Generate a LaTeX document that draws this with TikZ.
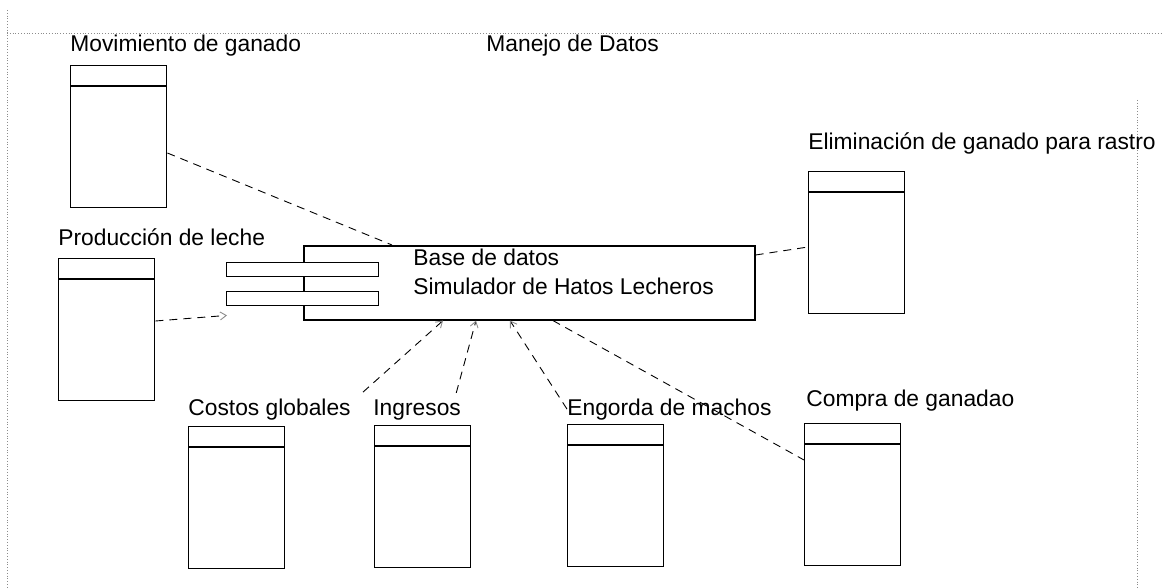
\documentclass[tikz,border=0pt]{standalone}
\usepackage{fontspec}
\setmainfont{Liberation Sans}
\usetikzlibrary{calc,arrows.meta}

\begin{document}
\begin{tikzpicture}[x=0.5pt,y=-0.5pt,
  tabla/.style={draw, line width=0.7pt, minimum width=48pt, minimum height=71pt, inner sep=0pt, anchor=north west},
  interfaz/.style={draw, fill=white, line width=0.7pt, minimum width=76pt, minimum height=7pt, inner sep=0pt, anchor=north west},
  etiqueta/.style={anchor=base west, inner sep=0pt, font=\fontsize{11.4}{14}\selectfont},
  enlace/.style={dash pattern=on 4pt off 3pt, line width=0.45pt},
  punta/.style={-{Straight Barb[length=3pt,width=4pt,color=black!45]}}]
  \useasboundingbox (0,0) rectangle (1162,588);
  % Frame of the page
  \draw[black!45, densely dotted, line width=0.4pt] (7,10) -- (7,588);
  \draw[black!45, densely dotted, line width=0.4pt] (7,33) -- (1162,33);
  \draw[black!45, densely dotted, line width=0.4pt] (1137,100) -- (1137,588);
  % Title
  \node[etiqueta] (titulo) at (486,52) {Manejo de Datos};
  % Central component
  \node[draw, line width=0.8pt, minimum width=225.5pt, minimum height=37pt, inner sep=0pt, anchor=north west] (bd) at (303,245) {};
  \node[interfaz] (ifz1) at (226,262) {};
  \node[interfaz] (ifz2) at (226,291) {};
  \node[etiqueta] (bdnombre) at (413,266) {Base de datos};
  \node[etiqueta] (bdsim) at (413,294) {Simulador de Hatos Lecheros};
  % Tables
  \node[tabla] (mov) at (70,65) {};
  \node[tabla] (prod) at (58,258) {};
  \node[tabla] (elim) at (808,171) {};
  \node[tabla] (cos) at (188,426) {};
  \node[tabla] (ing) at (374,425) {};
  \node[tabla] (eng) at (567,424) {};
  \node[tabla] (com) at (804,423) {};
  \foreach \t in {mov,prod,elim,cos,ing,eng,com}
    \draw[line width=0.6pt] ($(\t.north west)+(0,21)$) -- ($(\t.north east)+(0,21)$);
  % Table labels
  \node[etiqueta] (lmov) at (70,52) {Movimiento de ganado};
  \node[etiqueta] (lprod) at (58,246) {Producción de leche};
  \node[etiqueta] (lelim) at (808,150) {Eliminación de ganado para rastro};
  \node[etiqueta] (lcos) at (188,415) {Costos globales};
  \node[etiqueta] (ling) at (373,415) {Ingresos};
  \node[etiqueta] (leng) at (567,415) {Engorda de machos};
  \node[etiqueta] (lcom) at (806,406) {Compra de ganadao};
  % Dependencies
  \draw[enlace] ($(mov.north east)+(0,88)$) -- ($(bd.north west)+(89,0)$);
  \draw[enlace,punta] ($(prod.north east)+(0,63)$) -- ($(ifz2.south west)+(1,9)$);
  \draw[enlace] ($(bd.north east)+(0,10)$) -- ($(elim.north west)+(0,76)$);
  \draw[enlace,punta] ($(lcos.north east)+(12,-6)$) -- ($(bd.south west)+(140,0)$);
  \draw[enlace,punta] ($(ling.north east)+(-5,-6)$) -- ($(bd.south west)+(173,0)$);
  \draw[enlace,punta] (leng.west) -- ($(bd.south west)+(207,0)$);
  \draw[enlace] ($(bd.south west)+(250,0)$) -- ($(com.north west)+(0,37)$);
\end{tikzpicture}
\end{document}
